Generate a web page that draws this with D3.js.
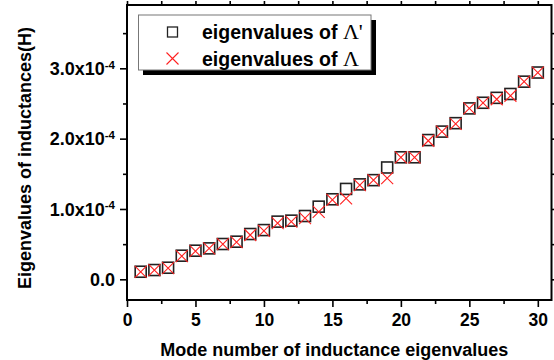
<!DOCTYPE html>
<html>
<head>
<meta charset="utf-8">
<script src="https://cdn.jsdelivr.net/npm/d3@7"></script>
<style>
  body { margin: 0; background: #fff; }
  text { font-family: "Liberation Sans", Arial, sans-serif; font-weight: bold; }
</style>
</head>
<body>
<svg id="chart" width="554" height="360"></svg>
<script>
    // Data (eigenvalues in units of 1e-4 H)
    const modes = d3.range(1, 31);
    const eigPrime = [0.108, 0.132, 0.165, 0.336, 0.407, 0.44, 0.502, 0.535, 0.644, 0.70,
                      0.82, 0.834, 0.90, 1.033, 1.138, 1.285, 1.35, 1.41, 1.59, 1.735,
                      1.735, 1.98, 2.10, 2.22, 2.43, 2.51, 2.58, 2.635, 2.81, 2.94];
    const eigLambda = [0.105, 0.13, 0.16, 0.33, 0.40, 0.44, 0.50, 0.53, 0.63, 0.69,
                       0.80, 0.82, 0.87, 0.96, 1.13, 1.15, 1.34, 1.41, 1.44, 1.735,
                       1.735, 1.97, 2.10, 2.21, 2.43, 2.51, 2.56, 2.61, 2.81, 2.94];
    const xTicks = [0, 5, 10, 15, 20, 25, 30];
    const yTicks = [0, 1, 2, 3];

    const svg = d3.select("#chart");
    const mLeft = 127, mRight = 551.5, mTop = 5, mBottom = 300;

    const x = d3.scaleLinear().domain([0, 31]).range([mLeft, mRight]);
    const y = d3.scaleLinear().domain([-0.294, 3.9]).range([mBottom, mTop]);

    // minor ticks
    const xMinor = d3.range(0, 31, 2.5);
    const yMinor = d3.range(0, 4, 0.5);

    const axisStyle = g => {
        g.select(".domain").remove();
        g.selectAll("line").attr("stroke", "#000").attr("stroke-width", 1.6);
    };

    // bottom axis
    svg.append("g").attr("transform", `translate(0,${mBottom})`)
        .call(d3.axisBottom(x).tickValues(xMinor.filter(v => v % 5 !== 0)).tickSize(4).tickFormat(""))
        .call(axisStyle);
    svg.append("g").attr("transform", `translate(0,${mBottom})`)
        .call(d3.axisBottom(x).tickValues(xTicks).tickSize(7).tickPadding(7).tickFormat(d => d))
        .call(axisStyle)
        .call(g => g.selectAll("text").attr("fill", "#000").style("font-size", "17.5px"));

    // top axis (ticks only)
    svg.append("g").attr("transform", `translate(0,${mTop})`)
        .call(d3.axisTop(x).tickValues(xMinor).tickSize(4).tickFormat(""))
        .call(axisStyle);

    // left axis
    svg.append("g").attr("transform", `translate(${mLeft},0)`)
        .call(d3.axisLeft(y).tickValues(yMinor.filter(v => v % 1 !== 0)).tickSize(4).tickFormat(""))
        .call(axisStyle);
    const yAx = svg.append("g").attr("transform", `translate(${mLeft},0)`)
        .call(d3.axisLeft(y).tickValues(yTicks).tickSize(7).tickPadding(4).tickFormat(""))
        .call(axisStyle);
    yAx.selectAll(".tick").each(function(d) {
        const t = d3.select(this).append("text")
            .attr("x", -12).attr("dy", "0.35em")
            .attr("text-anchor", "end").attr("fill", "#000")
            .style("font-size", "18px");
        if (d === 0) {
            t.text("0.0");
        } else {
            t.append("tspan").text(d.toFixed(1) + "x10");
            t.append("tspan").attr("dy", "-0.55em").style("font-size", "11.5px").text("-4");
        }
    });

    // right axis (ticks only)
    svg.append("g").attr("transform", `translate(${mRight},0)`)
        .call(d3.axisRight(y).tickValues(yMinor).tickSize(4).tickFormat(""))
        .call(axisStyle);

    // frame
    svg.append("rect")
        .attr("x", mLeft).attr("y", mTop)
        .attr("width", mRight - mLeft).attr("height", mBottom - mTop)
        .attr("fill", "none").attr("stroke", "#000").attr("stroke-width", 2);

    // markers
    const sq = 11, cr = 6;
    svg.append("g").selectAll("rect")
        .data(modes)
        .enter()
        .append("rect")
        .attr("x", (d, i) => x(d) - sq / 2)
        .attr("y", (d, i) => y(eigPrime[i]) - sq / 2)
        .attr("width", sq).attr("height", sq)
        .attr("fill", "none").attr("stroke", "#222").attr("stroke-width", 1.6);

    svg.append("g").selectAll("path")
        .data(modes)
        .enter()
        .append("path")
        .attr("d", (d, i) => {
            const cx = x(d), cy = y(eigLambda[i]);
            return `M${cx - cr},${cy - cr}L${cx + cr},${cy + cr}M${cx - cr},${cy + cr}L${cx + cr},${cy - cr}`;
        })
        .attr("stroke", "#ff2020").attr("stroke-width", 1.1).attr("fill", "none");

    // legend
    const lg = svg.append("g");
    lg.append("rect").attr("x", 143).attr("y", 20).attr("width", 233).attr("height", 55).attr("fill", "#000");
    lg.append("rect").attr("x", 138.5).attr("y", 15).attr("width", 232.5).attr("height", 55)
        .attr("fill", "#fff").attr("stroke", "#777").attr("stroke-width", 1);
    lg.append("rect").attr("x", 167.5).attr("y", 27).attr("width", 10).attr("height", 10)
        .attr("fill", "none").attr("stroke", "#222").attr("stroke-width", 1.3);
    lg.append("path")
        .attr("d", "M166.5,52.5L178.5,64.5M166.5,64.5L178.5,52.5")
        .attr("stroke", "#ff2020").attr("stroke-width", 1.1);
    const labels = [["eigenvalues of ", "Λ'"], ["eigenvalues of ", "Λ"]];
    labels.forEach((l, i) => {
        const t = lg.append("text").attr("x", 202).attr("y", 39 + i * 26.5)
            .attr("fill", "#000").style("font-size", "19.5px");
        t.append("tspan").text(l[0]);
        t.append("tspan").style("font-family", "'Liberation Serif', 'Times New Roman', serif")
            .style("font-weight", "normal").style("font-size", "22px").text(l[1]);
    });

    // axis titles
    svg.append("text")
        .attr("x", (mLeft + mRight) / 2 - 5).attr("y", 356)
        .attr("text-anchor", "middle").attr("fill", "#000").style("font-size", "18px")
        .text("Mode number of inductance eigenvalues");
    svg.append("text")
        .attr("transform", "translate(31,158) rotate(-90)")
        .attr("text-anchor", "middle").attr("fill", "#000").style("font-size", "18px")
        .text("Eigenvalues of inductances(H)");
</script>
</body>
</html>
